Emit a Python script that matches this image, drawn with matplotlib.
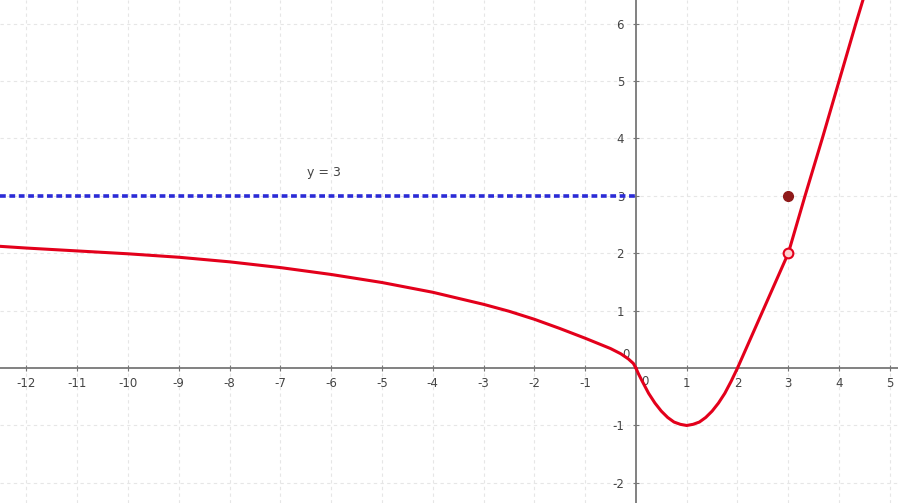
import numpy as np
import matplotlib.pyplot as plt

plt.rcParams["axes.unicode_minus"] = False

# curve values
left_x = [-12.52, -12, -11, -10, -9, -8, -7, -6, -5, -4, -3, -2.5, -2, -1.5,
          -1, -0.75, -0.5, -0.3, -0.15, -0.05, 0]
left_y = [2.12, 2.09, 2.04, 1.99, 1.93, 1.85, 1.75, 1.63, 1.49, 1.32, 1.11, 0.99,
          0.85, 0.69, 0.52, 0.43, 0.34, 0.25, 0.16, 0.08, 0]

mid_x = [0, 0.05, 0.125, 0.25, 0.375, 0.5, 0.625, 0.75, 0.875, 1, 1.125, 1.25,
         1.375, 1.5, 1.625, 1.75, 1.875, 2, 2.25, 2.5, 2.75, 3]
mid_y = [0, -0.1, -0.23, -0.44, -0.61, -0.75, -0.86, -0.94, -0.98, -1, -0.98,
         -0.94, -0.86, -0.75, -0.61, -0.44, -0.23, 0, 0.5, 1.0, 1.5, 2.0]

upper_x = [3, 3.33, 3.67, 4.0, 4.33, 4.47]
upper_y = [2, 3, 4, 5, 6, 6.41]

asym_y = 3
open_pt = (3, 2)
closed_pt = (3, 3)

x_ticks = [t for t in range(-12, 6) if t != 0]
y_ticks = [t for t in range(-2, 7) if t != 0]

fig = plt.figure(figsize=(8.98, 5.03), dpi=100)
ax = fig.add_axes([0, 0, 1, 1])
ax.set_xlim(-12.52, 5.16)
ax.set_ylim(-2.35, 6.41)

ax.set_xticks(x_ticks)
ax.set_yticks(y_ticks)
ax.grid(True, color="#e6e6e6", linestyle=(0, (3, 3)), linewidth=0.8)

for side in ["top", "right"]:
    ax.spines[side].set_visible(False)
ax.spines["left"].set_position(("data", 0))
ax.spines["bottom"].set_position(("data", 0))
ax.spines["left"].set_color("#777777")
ax.spines["bottom"].set_color("#777777")
ax.spines["left"].set_linewidth(1.3)
ax.spines["bottom"].set_linewidth(1.3)
ax.tick_params(axis="both", direction="inout", length=5, color="#777777",
               labelsize=8.5, labelcolor="#444444")
ax.tick_params(axis="x", pad=4)
ax.tick_params(axis="y", pad=6)
ax.text(0.18, -0.12, "0", fontsize=8.5, color="#444444", ha="center", va="top")
ax.text(-0.2, 0.12, "0", fontsize=8.5, color="#444444", ha="center", va="bottom")

# asymptote
ax.plot([-12.52, 0], [asym_y, asym_y], color="#2b2bd6", linewidth=2.6,
        linestyle=(0, (1.6, 1.0)), zorder=3)
ax.text(-6.15, 3.41, "y = 3", fontsize=9, color="#444444", ha="center", va="center")

red = "#e3001b"
ax.plot(left_x, left_y, color=red, linewidth=2.2, zorder=4)
ax.plot(mid_x, mid_y, color=red, linewidth=2.2, zorder=4)
ax.plot(upper_x, upper_y, color=red, linewidth=2.2, zorder=4)

ax.plot(*open_pt, marker="o", markersize=7, markerfacecolor="#ffd0d0",
        markeredgecolor=red, markeredgewidth=1.5, zorder=5)
ax.plot(*closed_pt, marker="o", markersize=7, color="#8f1a1a", zorder=5)

fig.savefig("out.png", dpi=100)
